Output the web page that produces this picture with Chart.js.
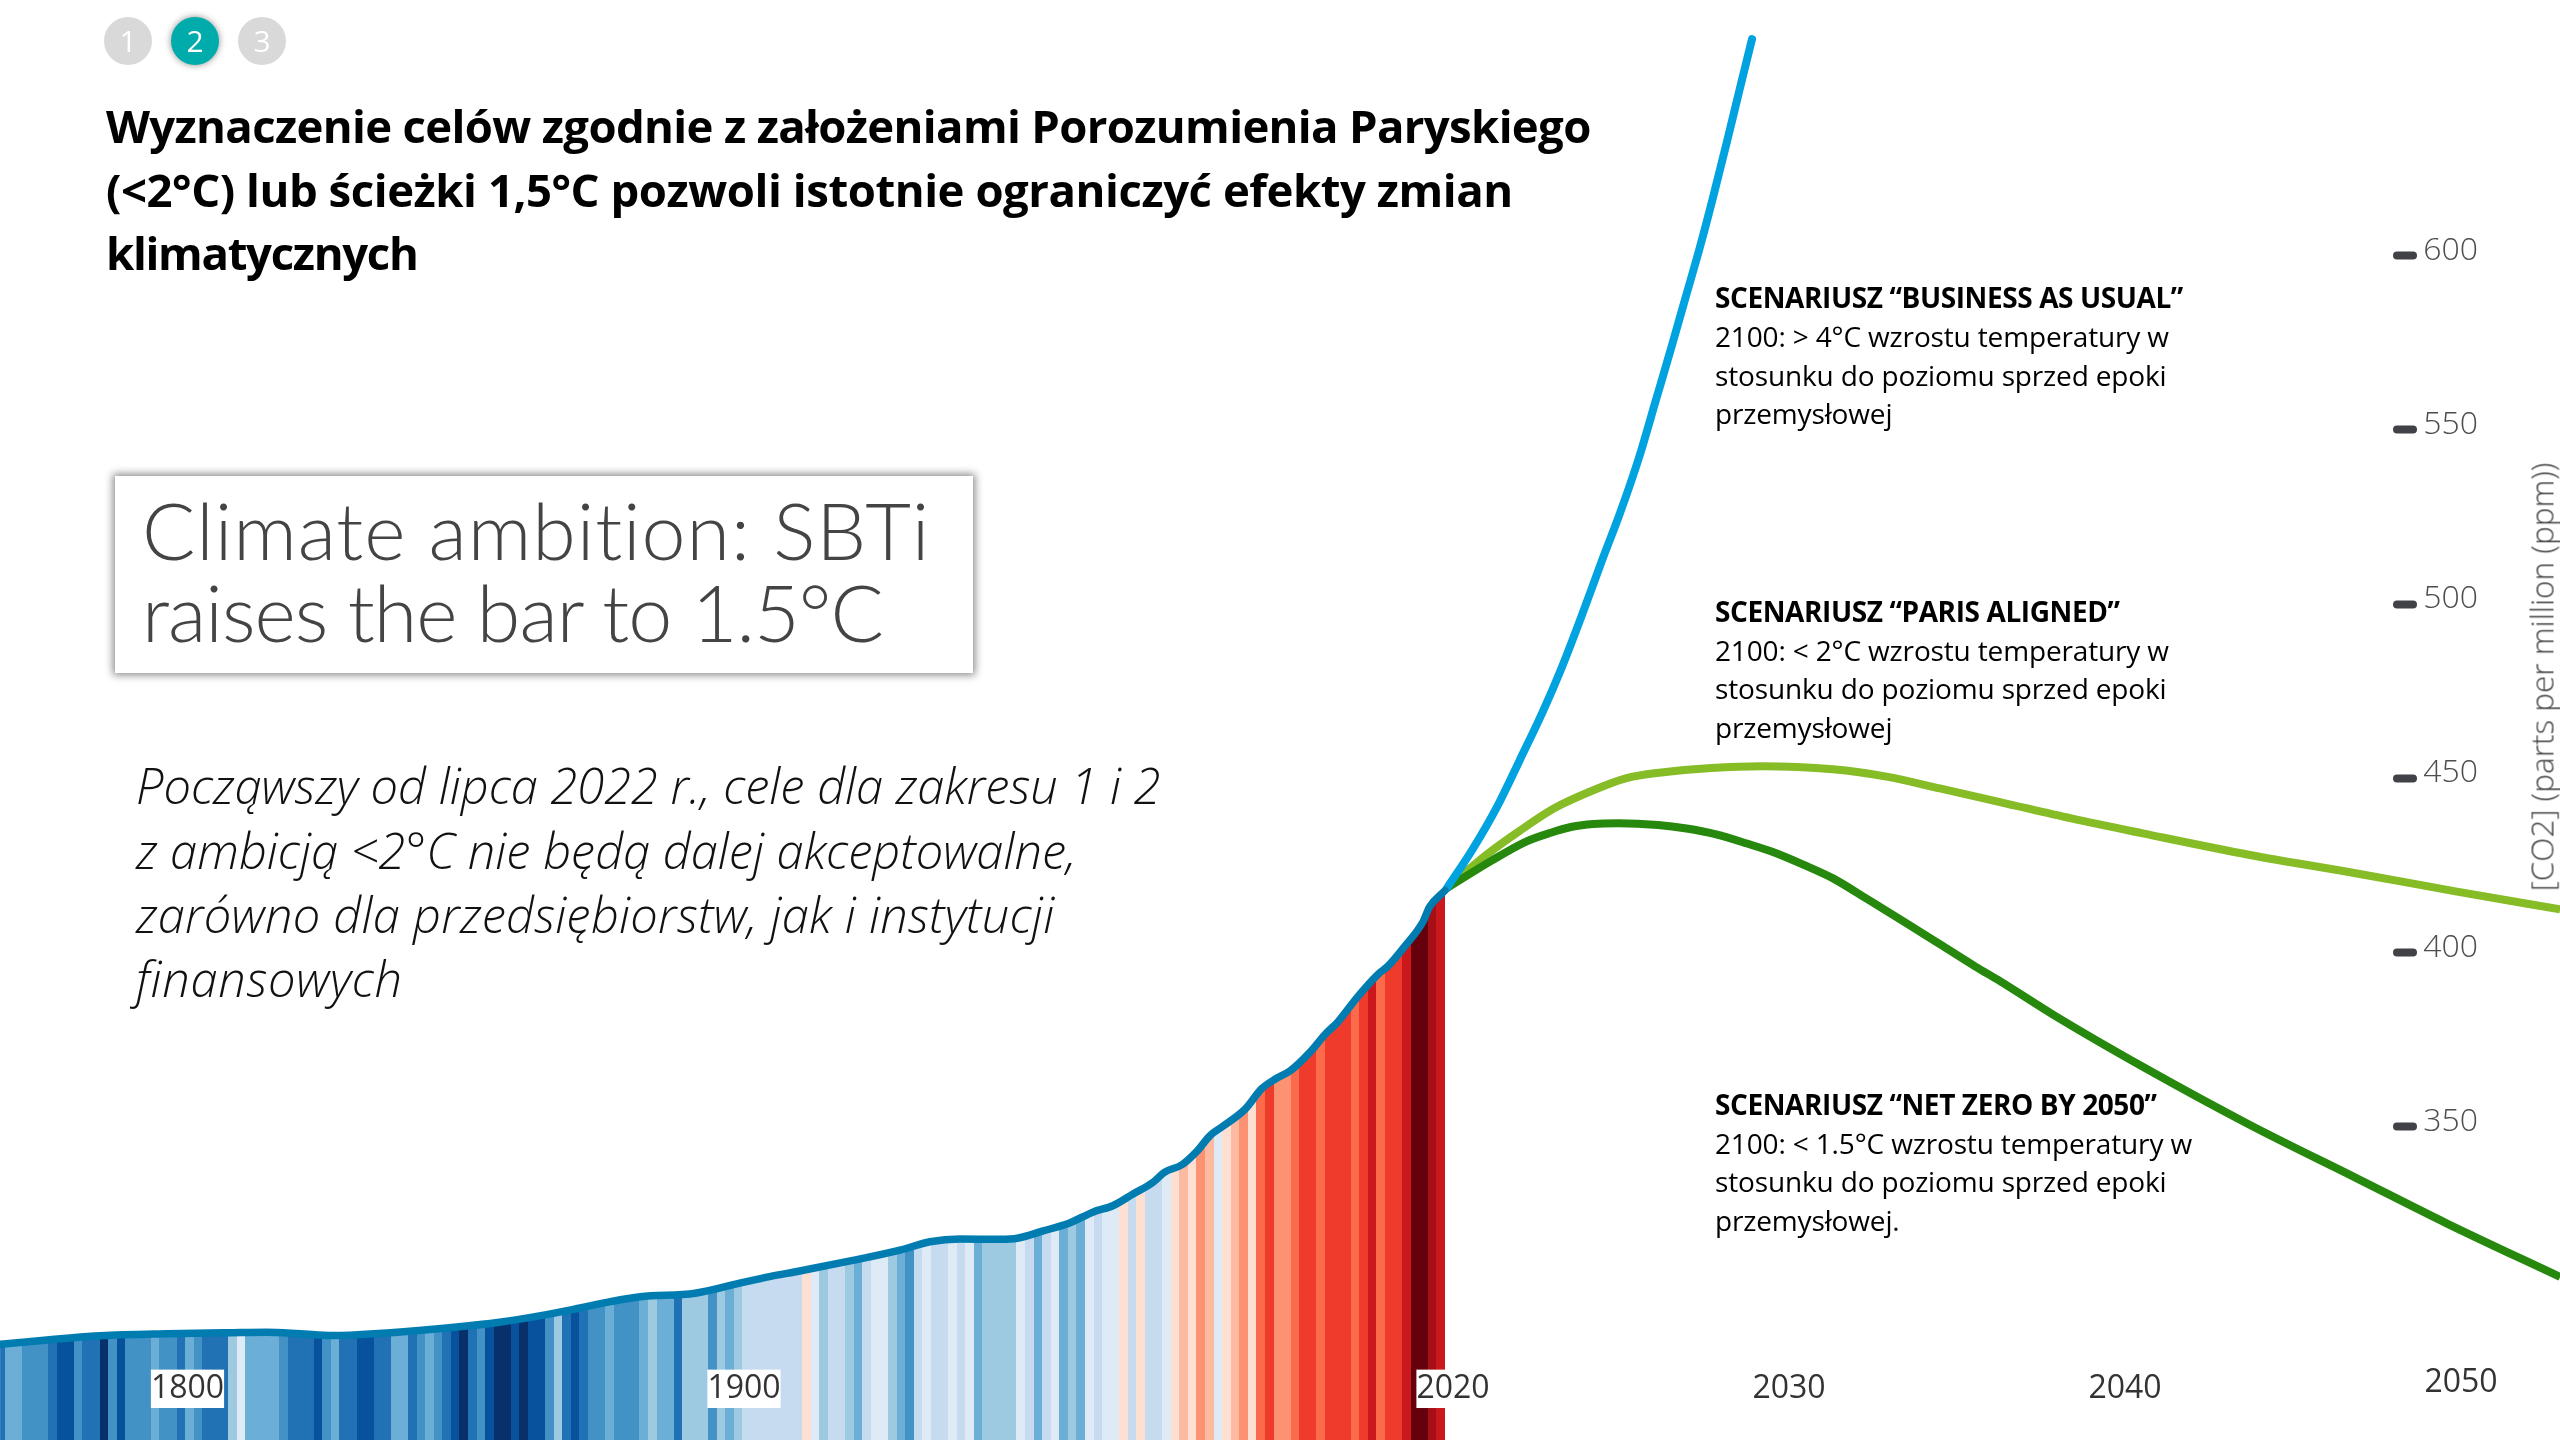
<!DOCTYPE html>
<html lang="pl">
<head>
<meta charset="utf-8">
<title>Scenariusze CO2</title>
<script src="https://cdn.jsdelivr.net/npm/chart.js@4/dist/chart.umd.min.js"></script>
<style>
  html, body { margin: 0; background: #fff; }
  #slide { position: relative; width: 2560px; height: 1440px; overflow: hidden; font-family: "Open Sans", sans-serif; }
  #chart { position: absolute; left: 0; top: 0; }
  .line { position: absolute; white-space: nowrap; transform: translateY(-50%); }
  .title { left: 106px; font-size: 45.5px; font-weight: 700; color: #000; }
  .note { left: 1715px; font-size: 28px; color: #000; letter-spacing: -0.15px; }
  .note.head { font-weight: 700; letter-spacing: -0.4px; }
  .quote { left: 136px; font-size: 48.8px; font-weight: 300; font-style: italic; color: #111; }
  .step { position: absolute; top: 17px; width: 48px; height: 48px; border-radius: 50%; background: #d9d9d9; color: #fff; font-size: 30px; line-height: 48px; text-align: center; }
  .step.on { background: #00abab; box-shadow: 0 0 7px rgba(0,0,0,.45); }
  #clip { position: absolute; left: 115px; top: 476px; width: 858px; height: 197px; background: #fff; box-shadow: 0 0 8px 2px #888; }
  .clipline { position: absolute; left: 27px; font-family: Lato, sans-serif; font-weight: 300; font-size: 79px; color: #444; white-space: nowrap; font-variant-ligatures: none; transform: translateY(-50%); }
  #ytitle { position: absolute; left: 2541px; top: 677px; white-space: nowrap; font-size: 31.5px; font-weight: 300; color: #444; transform: translate(-50%, -50%) rotate(-90deg); }
</style>
</head>
<body>
<div id="slide">
  <canvas id="chart" width="2560" height="1440"></canvas>
  <div id="text"></div>
  <div id="clip"></div>
  <div id="ytitle">[CO2] (parts per million (ppm))</div>
</div>
<script>
// ===== Data =====
// warming stripes, one level per year, index into stripePalette
const stripePalette = ['#08306b', '#08519c', '#2171b5', '#4292c6', '#6baed6', '#9ecae1', '#c6dbef', '#deebf7',
  '#fee0d2', '#fcbba1', '#fc9272', '#fb6a4a', '#ef3b2c', '#cb181d', '#a50f15', '#67000d'];
const firstStripeYear = 1852;
const stripeLevels = [
  2, 4, 4, 3, 3, 3, 2, 1, 1, 3, 2, 2, 0, 3, 1, 3, 3, 3, 4, 3, 3, 2, 4, 3, 2, 2, 2, 5, 7, 4,
  4, 4, 4, 3, 2, 2, 2, 1, 3, 4, 2, 2, 1, 1, 2, 2, 4, 4, 2, 3, 4, 3, 2, 1, 0, 2, 3, 1, 0, 0,
  1, 0, 1, 1, 3, 5, 2, 1, 2, 3, 3, 4, 3, 3, 3, 4, 5, 4, 4, 2, 5, 5, 5, 3, 5, 4, 5, 6, 6, 6,
  6, 6, 6, 6, 8, 7, 5, 6, 6, 5, 4, 6, 7, 7, 5, 4, 3, 6, 7, 6, 6, 7, 6, 7, 4, 5, 5, 5, 5,
  7, 6, 4, 6, 7, 4, 5, 4, 7, 6, 7, 7, 8, 6, 8, 6, 6, 7, 8, 9, 8, 10, 9, 7, 8, 9, 10, 8, 11, 12,
  10, 10, 11, 12, 12, 11, 12, 12, 12, 11, 12, 13, 11, 12, 12, 13, 15, 15, 14, 13];

const historyYears = [1852.4, 1864.1, 1871.9, 1879.6, 1883.5, 1887.4, 1891.2, 1893.2, 1899.1, 1910.7, 1916, 1920.1,
  1923.6, 1927.1, 1933.5, 1938.7, 1942.2, 1945.7, 1951.6, 1957.4, 1960.9, 1964.4, 1969.1, 1971.1, 1974.1, 1977.2,
  1979.9, 1982.3, 1984.6, 1986.9, 1988.3, 1990.3, 1992.1, 1993.6, 1995, 1997.7, 1999.6, 2001.2, 2002.9, 2005.2,
  2007, 2008.5, 2010.8, 2013.2, 2014.3, 2016.3, 2018.4, 2019.2, 2021];
const historyPpm = [287.6, 290, 290.6, 290.9, 291, 290.6, 290.1, 290.2, 291.1, 293.9, 296, 298,
  299.8, 301.2, 302.2, 305.1, 307, 308.6, 311.5, 314.6, 317, 317.8, 317.7, 318, 320.1, 322.4,
  325.5, 327.4, 330.7, 334, 337, 339.1, 343.1, 347.5, 350, 355.1, 360.9, 363.7, 366, 371.3,
  376.5, 380.1, 387.3, 393.8, 396, 401.8, 408.7, 413.1, 417.8];

const bauYears = [2019.82, 2020.6, 2021.31, 2021.99, 2022.68, 2023.24, 2023.87, 2024.46, 2024.97, 2025.54, 2026.04,
  2026.52, 2026.96, 2027.35, 2027.74, 2028.15, 2028.54, 2028.9];
const bauPpm = [418.5, 429.9, 441.8, 455.3, 469.3, 481.9, 497.7, 513.2, 526.1, 542.2, 558.6,
  574.4, 589.3, 602.5, 616.8, 632.6, 648.1, 662.2];

const parisYears = [2019.82, 2020.99, 2021.95, 2023.01, 2024.08, 2025.14, 2026.2, 2027.69, 2029.18, 2031.31, 2032.9,
  2034.49, 2036.28, 2038.4, 2040.53, 2043.72, 2046.9, 2049.88, 2052.95];
const parisPpm = [418.5, 428, 434.7, 441.4, 446.2, 450, 451.7, 453, 453.5, 452.6, 450.5,
  447.1, 443.2, 438.5, 434.2, 428, 422.7, 417.5, 412.4];

const netZeroYears = [2019.82, 2021.1, 2022.16, 2022.91, 2023.54, 2024.18, 2024.93, 2026.1, 2026.95, 2027.8, 2028.75,
  2029.6, 2030.46, 2031.31, 2032.37, 2033.43, 2034.49, 2035.56, 2036.28, 2037.87, 2040.53, 2043.72, 2046.9, 2049.57, 2052.95];
const netZeroPpm = [418.5, 426.1, 431.8, 434.4, 436.1, 436.9, 437.1, 436.6, 435.6, 434, 431.3,
  428.6, 425.1, 421.3, 415.1, 408.8, 402.4, 395.9, 391.8, 382.1, 367.2, 350.5, 335.2, 322.3, 306.9];

// tick labels
const earlyYearTicks = [1800, 1900];
const projectionYearTicks = [2020, 2030, 2040];
const lastYearTick = [2050];
const ppmTicks = [350, 400, 450, 500, 550, 600];

// ===== Slide text =====
// [text, y, letter spacing]
const titleLines = [
  ['Wyznaczenie celów zgodnie z założeniami Porozumienia Paryskiego', 125, -0.65],
  ['(<2°C) lub ścieżki 1,5°C pozwoli istotnie ograniczyć efekty zmian', 189, -0.45],
  ['klimatycznych', 252, -1.3],
];
const quoteLines = [
  ['Począwszy od lipca 2022 r., cele dla zakresu 1 i 2', 785],
  ['z ambicją <2°C nie będą dalej akceptowalne,', 850],
  ['zarówno dla przedsiębiorstw, jak i instytucji', 914, 0.25],
  ['finansowych', 978, 0.7],
];
const noteLines = [
  ['SCENARIUSZ “BUSINESS AS USUAL”', 297, 'head'],
  ['2100: > 4°C wzrostu temperatury w', 336],
  ['stosunku do poziomu sprzed epoki', 375],
  ['przemysłowej', 413],
  ['SCENARIUSZ “PARIS ALIGNED”', 611, 'head'],
  ['2100: < 2°C wzrostu temperatury w', 650],
  ['stosunku do poziomu sprzed epoki', 688],
  ['przemysłowej', 727],
  ['SCENARIUSZ “NET ZERO BY 2050”', 1104, 'head'],
  ['2100: < 1.5°C wzrostu temperatury w', 1143],
  ['stosunku do poziomu sprzed epoki', 1181],
  ['przemysłowej.', 1220],
];
const clipLines = [['Climate ambition: SBTi', 53, 0.9], ['raises the bar to 1.5°C', 135, -1]];
const steps = [['1', 104, ''], ['2', 171, 'on'], ['3', 238, '']];

function esc(s) {
  return s.replace(/&/g, '&amp;').replace(/</g, '&lt;');
}
function lineHtml(cls, [txt, y, extra]) {
  const spacing = typeof extra === 'number' ? `;letter-spacing:${extra}px` : '';
  const extraCls = typeof extra === 'string' ? extra : '';
  return `<div class="line ${cls} ${extraCls}" style="top:${y}px${spacing}">${esc(txt)}</div>`;
}
document.getElementById('text').innerHTML =
  titleLines.map(l => lineHtml('title', l)).join('') +
  quoteLines.map(l => lineHtml('quote', l)).join('') +
  noteLines.map(l => lineHtml('note', l)).join('') +
  steps.map(([n, x, on]) => `<div class="step ${on}" style="left:${x}px">${n}</div>`).join('');
document.getElementById('clip').innerHTML =
  clipLines.map(([t, y, s]) => `<div class="clipline" style="top:${y}px;letter-spacing:${s}px">${t}</div>`).join('');

// ===== Chart =====
// history and projection run on different time scales, each gets its own x axis
const histPerYear = 8.57;
const projPerYear = 33.6;
const earlyPerYear = 5.565;
const width = 2560;

function xRange(anchorYear, anchorPx, pxPerYear) {
  const min = anchorYear - anchorPx / pxPerYear;
  return { min, max: min + width / pxPerYear };
}

function points(xs, ys) {
  return xs.map((x, i) => ({ x, y: ys[i] }));
}

function stripeFill(ctx) {
  const scale = ctx.chart.scales.xHist;
  // first call comes before layout
  if (!scale || !ctx.chart.chartArea || !isFinite(scale.width) || !scale.width) return stripePalette[3];
  const g = ctx.chart.ctx.createLinearGradient(0, 0, scale.width, 0);
  const clamp = v => Math.min(1, Math.max(0, v));
  stripeLevels.forEach((level, i) => {
    const year = firstStripeYear + i;
    g.addColorStop(clamp(scale.getPixelForValue(year) / scale.width), stripePalette[level]);
    g.addColorStop(clamp(scale.getPixelForValue(year + 1) / scale.width), stripePalette[level]);
  });
  return g;
}

// tick labels sit inside the plot, they must not shrink the chart area
function noPadding(scale) {
  scale.paddingTop = 0;
  scale.paddingBottom = 0;
  scale.paddingLeft = 0;
  scale.paddingRight = 0;
}

function yearAxis(range, ticks, ppmPos) {
  return {
    type: 'linear',
    position: { y: ppmPos },
    min: range.min,
    max: range.max,
    grid: { display: false, drawTicks: false },
    border: { display: false },
    afterBuildTicks: scale => { scale.ticks = ticks.map(value => ({ value })); },
    afterFit: noPadding,
    ticks: {
      z: 1,
      autoSkip: false,
      maxRotation: 0,
      padding: 0,
      color: '#333',
      font: { family: '"Open Sans"', size: 32 },
      showLabelBackdrop: true,
      backdropColor: '#fff',
      backdropPadding: 0,
      callback: v => String(v),
    },
  };
}

const projRange = xRange(2020, 1453, projPerYear);

new Chart(document.getElementById('chart'), {
  type: 'line',
  data: {
    datasets: [
      {
        label: 'Historia',
        data: points(historyYears, historyPpm),
        xAxisID: 'xHist',
        borderColor: '#007cb0',
        backgroundColor: stripeFill,
        fill: 'start',
        borderWidth: 7.5,
        borderCapStyle: 'round',
        cubicInterpolationMode: 'monotone',
        pointRadius: 0,
        order: 1,
      },
      {
        label: 'Business as usual',
        data: points(bauYears, bauPpm),
        xAxisID: 'xProj',
        borderColor: '#00a3e0',
        borderWidth: 8,
        borderCapStyle: 'round',
        cubicInterpolationMode: 'monotone',
        pointRadius: 0,
        order: 2,
      },
      {
        label: 'Paris aligned',
        data: points(parisYears, parisPpm),
        xAxisID: 'xProj',
        borderColor: '#86bc25',
        borderWidth: 8,
        cubicInterpolationMode: 'monotone',
        pointRadius: 0,
        order: 4,
      },
      {
        label: 'Net zero by 2050',
        data: points(netZeroYears, netZeroPpm),
        xAxisID: 'xProj',
        borderColor: '#26890d',
        borderWidth: 8,
        cubicInterpolationMode: 'monotone',
        pointRadius: 0,
        order: 3,
      },
    ],
  },
  options: {
    responsive: false,
    animation: false,
    layout: { padding: 0 },
    plugins: { legend: { display: false }, tooltip: { enabled: false } },
    scales: {
      xHist: { type: 'linear', display: false, ...xRange(2021, 1445, histPerYear) },
      xEarly: yearAxis(xRange(1800, 187.5, earlyPerYear), earlyYearTicks, 280.3),
      xProj: yearAxis(projRange, projectionYearTicks, 280.3),
      xLast: yearAxis(projRange, lastYearTick, 282),
      y: {
        type: 'linear',
        position: { xProj: 2048.57 },
        min: 260.1,
        max: 673.4,
        grid: { drawOnChartArea: false, drawTicks: true, tickLength: 16, tickWidth: 8, tickColor: '#404247' },
        border: { display: false },
        afterBuildTicks: scale => { scale.ticks = ppmTicks.map(value => ({ value })); },
        afterFit: noPadding,
        ticks: { display: false },
      },
      yLabels: {
        type: 'linear',
        position: { xProj: 2050.51 },
        min: 260.1,
        max: 673.4,
        grid: { display: false, drawTicks: false },
        border: { display: false },
        afterBuildTicks: scale => { scale.ticks = ppmTicks.map(value => ({ value })); },
        afterFit: noPadding,
        ticks: {
          autoSkip: false,
          labelOffset: -5,
          color: '#4d4d4d',
          font: { family: '"Open Sans"', size: 32, weight: 300 },
          callback: v => String(v),
        },
      },
    },
  },
  plugins: [{
    id: 'roundTicks',
    beforeDraw(chart) { chart.ctx.lineCap = 'round'; },
  }],
});
</script>
</body>
</html>
